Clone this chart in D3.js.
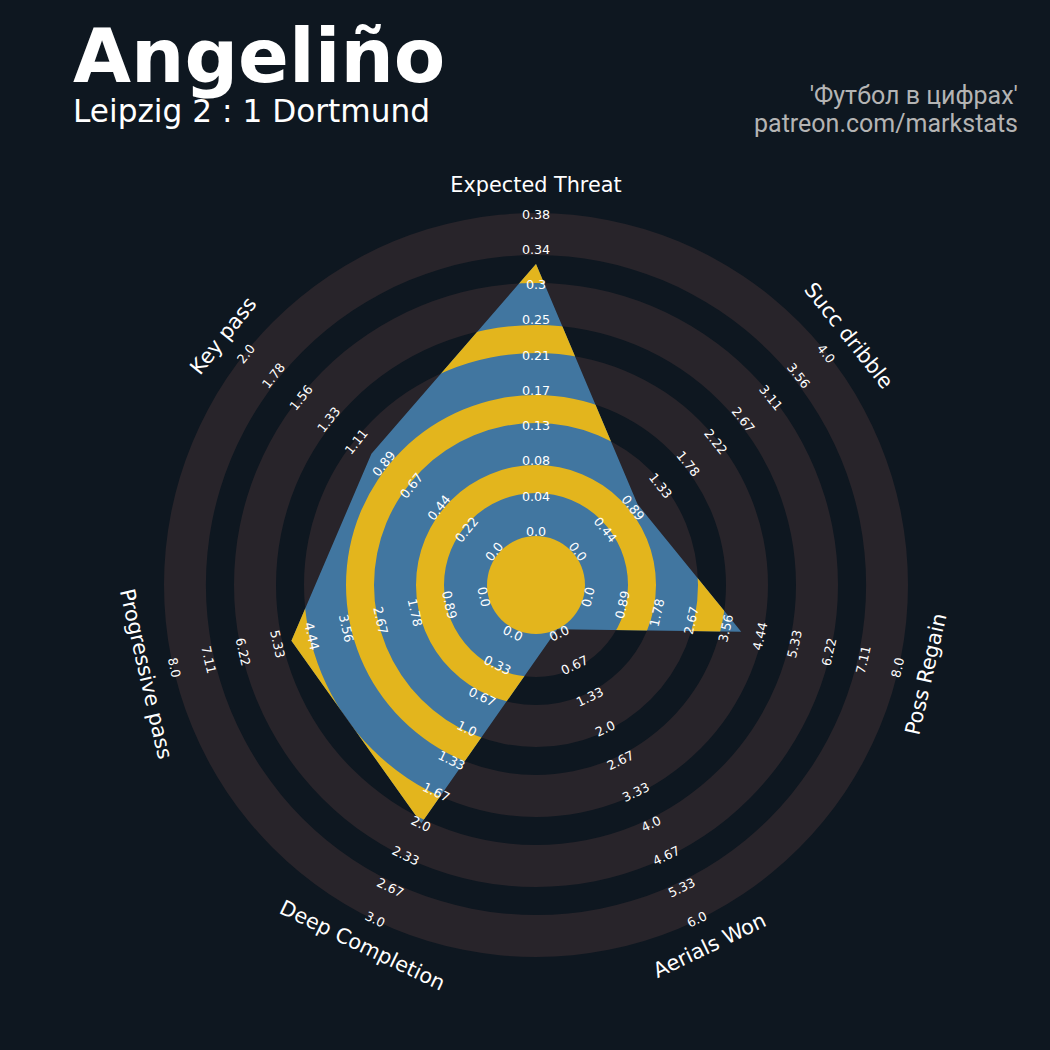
<!DOCTYPE html>
<html><head><meta charset="utf-8">
<script src="https://cdn.jsdelivr.net/npm/d3@7"></script>
<style>body{margin:0;background:#0e1720;} svg{display:block}</style>
</head><body>
<svg id="c" width="1050" height="1050"></svg>
<script>
// ---- data ----
const params = ["Expected Threat","Succ dribble","Poss Regain","Aerials Won","Deep Completion","Progressive pass","Key pass"];
const values = [0.32, 1, 4, 0, 2, 5, 1];
const minRange = [0, 0, 0, 0, 0, 0, 0];
const maxRange = [0.38, 4, 8, 6, 3, 8, 2];
const numTicks = 10;
const title = "Angeliño";
const subtitle = "Leipzig 2 : 1 Dortmund";
const credits = ["'Футбол в цифрах'", "patreon.com/markstats"];

// ---- layout ----
const W = 1050, H = 1050, cx = 536, cy = 585;
const rCenter = 49, rOuter = 372;
const bandEdges = [49, 92, 120, 162, 190, 232, 260, 302, 330, 372];
const colors = {bg:"#0e1720", ring:"#28242a", fillA:"#4176a0", fillB:"#e3b51d", text:"#ffffff", credit:"#b4b4b4"};

const svg = d3.select("#c");
svg.append("rect").attr("width", W).attr("height", H).attr("fill", colors.bg);
const defs = svg.append("defs");
const g = svg.append("g").attr("transform", `translate(${cx},${cy})`);

const angle = d3.scaleLinear().domain([0, params.length]).range([0, 2 * Math.PI]);
const rScales = params.map((p, i) => d3.scaleLinear().domain([minRange[i], maxRange[i]]).range([rCenter, rOuter]));
const labelScales = params.map((p, i) => d3.scaleLinear().domain([minRange[i], maxRange[i]]).range([53.5, 371]));

const arc = d3.arc().startAngle(0).endAngle(2 * Math.PI);
const grayBands = [], darkBands = [];
for (let k = 0; k < bandEdges.length - 1; k++) {
  (k % 2 === 0 ? grayBands : darkBands).push([bandEdges[k], bandEdges[k + 1]]);
}

// outer rings
g.append("g").selectAll("path").data(grayBands).join("path")
  .attr("d", d => arc({innerRadius: d[0], outerRadius: d[1]}))
  .attr("fill", colors.ring);

// radar polygon with alternating fill
const radial = d3.lineRadial()
  .angle((d, i) => angle(i))
  .radius((d, i) => rScales[i](d))
  .curve(d3.curveLinearClosed);
defs.append("clipPath").attr("id", "poly").append("path").attr("d", radial(values));
const pg = g.append("g").attr("clip-path", "url(#poly)");
pg.append("circle").attr("r", rOuter + 2).attr("fill", colors.fillA);
pg.selectAll("path.b").data(darkBands).join("path").attr("class", "b")
  .attr("d", d => arc({innerRadius: d[0], outerRadius: d[1]}))
  .attr("fill", colors.fillB);
g.append("circle").attr("r", rCenter).attr("fill", colors.fillB);

// helpers
function rot(a) { let d = a * 180 / Math.PI; while (d > 90) d -= 180; while (d <= -90) d += 180; return d; }
function pos(a, r) { return [r * Math.sin(a), -r * Math.cos(a)]; }
function fmt(v) { const r = Math.round(v * 100) / 100; return Number.isInteger(r) ? r.toFixed(1) : String(r); }

// range labels
params.forEach((p, i) => {
  const a = angle(i);
  const ticks = d3.range(numTicks).map(k => minRange[i] + k * (maxRange[i] - minRange[i]) / (numTicks - 1));
  g.append("g").selectAll("text").data(ticks).join("text")
    .attr("transform", d => { const [x, y] = pos(a, labelScales[i](d)); return `translate(${x},${y}) rotate(${rot(a)})`; })
    .attr("text-anchor", "middle").attr("dominant-baseline", "central")
    .attr("font-family", "DejaVu Sans").attr("font-size", 12.7)
    .attr("fill", colors.text)
    .text(d => fmt(d));
});

// param labels
g.append("g").selectAll("text").data(params).join("text")
  .attr("transform", (d, i) => { const a = angle(i); const [x, y] = pos(a, 400); return `translate(${x},${y}) rotate(${rot(a)})`; })
  .attr("text-anchor", "middle").attr("dominant-baseline", "central")
  .attr("font-family", "DejaVu Sans").attr("font-size", 20.8)
  .attr("fill", colors.text)
  .text(d => d);

// titles
svg.append("text").attr("x", 73).attr("y", 82).attr("font-family", "DejaVu Sans").attr("font-weight", "bold")
  .attr("font-size", 75).attr("fill", colors.text).text(title);
svg.append("text").attr("x", 73).attr("y", 122).attr("font-family", "DejaVu Sans")
  .attr("font-size", 31.2).attr("fill", colors.text).text(subtitle);
svg.append("g").selectAll("text").data(credits).join("text")
  .attr("x", 1018).attr("y", (d, i) => 104 + i * 28)
  .attr("text-anchor", "end").attr("font-family", "Roboto").attr("font-size", 25)
  .attr("fill", colors.credit).text(d => d);
</script>
</body></html>
